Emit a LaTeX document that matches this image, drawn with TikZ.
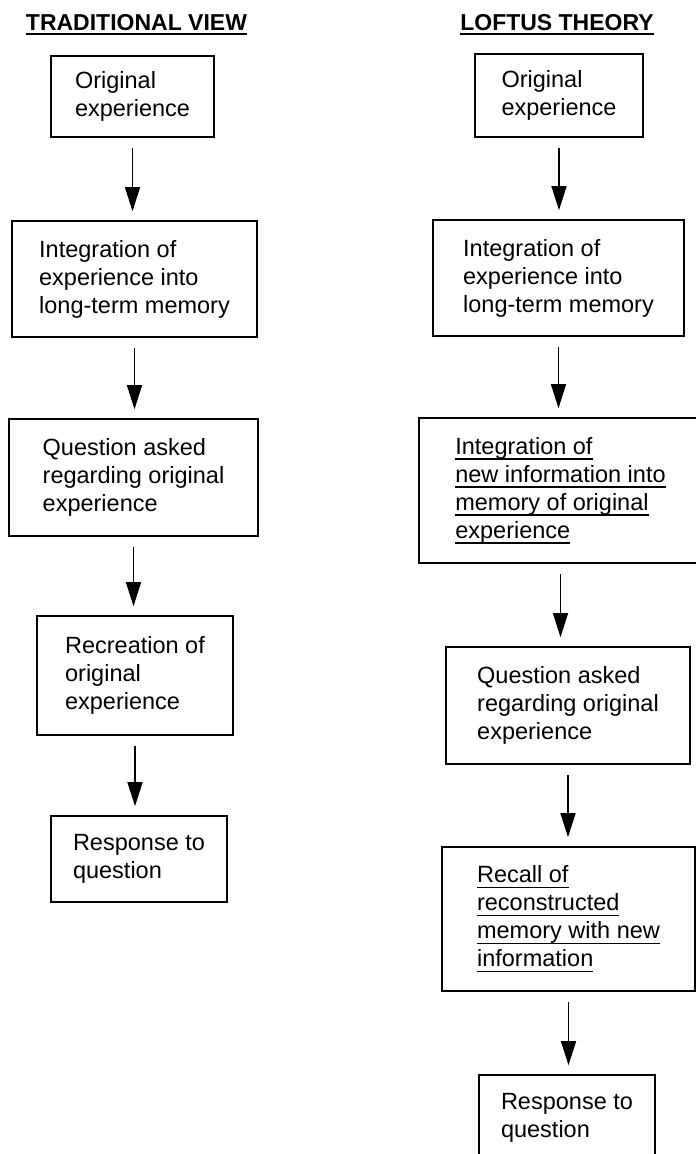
\documentclass[tikz,border=0pt]{standalone}
\usepackage{fontspec}
\setmainfont{Liberation Sans}
\usetikzlibrary{arrows.meta}
\newlength\ulwd
\newcommand\myul[1]{\settowidth\ulwd{#1}\rlap{\rule[-5.5pt]{\ulwd}{1.5pt}}#1}
\newcommand\myult[1]{\settowidth\ulwd{#1}\rlap{\rule[-5pt]{\ulwd}{2pt}}#1}
\begin{document}
\begin{tikzpicture}[x=1pt,y=-1pt,
  box/.style={draw, line width=1.6pt, inner sep=0pt, align=left,
    font=\fontsize{23.5}{28}\selectfont},
  ttl/.style={font=\bfseries\fontsize{23}{28}\selectfont, inner sep=0pt, anchor=base},
  arr/.style={line width=1.4pt, -{Triangle[length=24pt,width=15pt]},
    shorten <=10pt, shorten >=9pt}]
\clip (0,0) rectangle (696,1154);
\fill[white] (0,0) rectangle (696,1154);

% titles
\node[ttl] (T1) at (136.5,30) {\myult{TRADITIONAL VIEW}};
\node[ttl] (T2) at (557,30) {\myult{LOFTUS THEORY}};

% left column
\node[box, minimum width=163pt, minimum height=81pt] (L1) at (132.5,96.5) {Original\\experience};
\node[box, minimum width=245pt, minimum height=116pt] (L2) at (134.5,279) {Integration of\\experience into\\long-term memory};
\node[box, minimum width=249pt, minimum height=117pt] (L3) at (133.5,477.5) {Question asked\\regarding original\\experience};
\node[box, minimum width=196pt, minimum height=119pt] (L4) at (135,675.5) {Recreation of\\original\\experience};
\node[box, minimum width=176pt, minimum height=86pt] (L5) at (139,859) {Response to\\question};

% right column
\node[box, minimum width=168pt, minimum height=83pt] (R1) at (559,95.5) {Original\\experience};
\node[box, minimum width=251pt, minimum height=116pt] (R2) at (558.5,278) {Integration of\\experience into\\long-term memory};
\node[box, minimum width=283pt, minimum height=145pt] (R3) at (560.5,490.5) {\myul{Integration of}\\\myul{new information into}\\\myul{memory of original}\\\myul{experience}};
\node[box, minimum width=244pt, minimum height=117pt] (R4) at (568,705.5) {Question asked\\regarding original\\experience};
\node[box, minimum width=253pt, minimum height=144pt] (R5) at (568.5,919) {\myul{Recall of}\\\myul{reconstructed}\\\myul{memory with new}\\\myul{information}};
\node[box, minimum width=176pt, minimum height=86pt] (R6) at (567,1118) {Response to\\question};

% arrows
\draw[arr] (L1.south) -- (L1.south |- L2.north);
\draw[arr] (L2.south) -- (L2.south |- L3.north);
\draw[arr] (L3.south) -- (L3.south |- L4.north);
\draw[arr] (L4.south) -- (L4.south |- L5.north);

\draw[arr] (R1.south) -- (R1.south |- R2.north);
\draw[arr] (R2.south) -- (R2.south |- R3.north);
\draw[arr] (R3.south) -- (R3.south |- R4.north);
\draw[arr] (R4.south) -- (R4.south |- R5.north);
\draw[arr] (R5.south) -- (R5.south |- R6.north);
\end{tikzpicture}
\end{document}
